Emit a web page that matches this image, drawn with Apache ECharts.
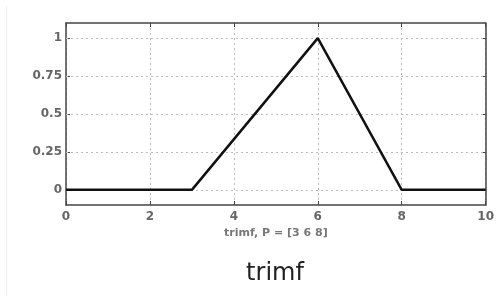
<!DOCTYPE html>
<html><head><meta charset="utf-8">
<script src="https://cdn.jsdelivr.net/npm/echarts@6/dist/echarts.min.js"></script>
<style>html,body{margin:0;padding:0;background:#fff}#c{width:497px;height:296px}</style>
</head><body><div id="c"></div>
<script>
var xValues = [0, 3, 6, 8, 10];
var yValues = [0, 0, 1, 0, 0];
var yTicks = [0, 0.25, 0.5, 0.75, 1];
var xLabel = 'trimf, P = [3 6 8]';
var titleText = 'trimf';

var chart = echarts.init(document.getElementById('c'), null, {renderer: 'canvas'});
var font = 'DejaVu Sans';
var axisCol = '#444';
var labCol = '#666';
var gridStyle = {color: '#bbb', type: [2, 3], width: 1};
var points = xValues.map(function (x, i) { return [x, yValues[i]]; });

chart.setOption({
  animation: false,
  backgroundColor: '#fff',
  grid: {left: 66, right: 5, top: 23, bottom: 91},
  xAxis: [{
    type: 'value', min: 0, max: 10, interval: 2, position: 'bottom',
    name: xLabel, nameLocation: 'middle', nameGap: 21,
    nameTextStyle: {fontFamily: font, fontSize: 11, fontWeight: 'bold', color: '#777'},
    axisLine: {show: true, onZero: false, lineStyle: {color: axisCol, width: 1.5}},
    axisTick: {show: true, inside: true, length: 4, lineStyle: {color: axisCol}},
    axisLabel: {fontFamily: font, fontSize: 12, fontWeight: 'bold', color: labCol, margin: 6},
    splitLine: {show: true, lineStyle: gridStyle}
  }, {
    type: 'value', min: 0, max: 10, interval: 2, position: 'top',
    axisLine: {show: true, onZero: false, lineStyle: {color: axisCol, width: 1.5}},
    axisTick: {show: true, inside: true, length: 4, lineStyle: {color: axisCol}},
    axisLabel: {show: false}, splitLine: {show: false}
  }],
  yAxis: [{
    type: 'value', min: -0.1, max: 1.1, position: 'left',
    axisLine: {show: true, onZero: false, lineStyle: {color: axisCol, width: 1.5}},
    axisTick: {show: true, inside: true, length: 4, customValues: yTicks, lineStyle: {color: axisCol}},
    axisLabel: {fontFamily: font, fontSize: 12, fontWeight: 'bold', color: labCol, margin: 4, customValues: yTicks},
    splitLine: {show: false}
  }, {
    type: 'value', min: -0.1, max: 1.1, position: 'right',
    axisLine: {show: true, onZero: false, lineStyle: {color: axisCol, width: 1.5}},
    axisTick: {show: true, inside: true, length: 4, customValues: yTicks, lineStyle: {color: axisCol}},
    axisLabel: {show: false, customValues: yTicks},
    splitLine: {show: false}
  }],
  title: {
    text: titleText, left: 270, top: 257, textAlign: 'center',
    textStyle: {fontFamily: 'DejaVu Sans', fontSize: 24, fontWeight: 'normal', color: '#222'}
  },
  graphic: [{
    type: 'line', shape: {x1: 6.5, y1: 6, x2: 6.5, y2: 296},
    style: {stroke: '#eee', lineWidth: 1}, silent: true
  }],
  series: [{
    type: 'line', data: points, xAxisIndex: 0, yAxisIndex: 0,
    showSymbol: false, symbol: 'none',
    lineStyle: {color: '#111', width: 2.5},
    markLine: {
      silent: true, symbol: 'none', label: {show: false},
      lineStyle: gridStyle, z: 1,
      data: yTicks.map(function (v) { return {yAxis: v}; })
    },
    z: 5
  }]
});
</script></body></html>
